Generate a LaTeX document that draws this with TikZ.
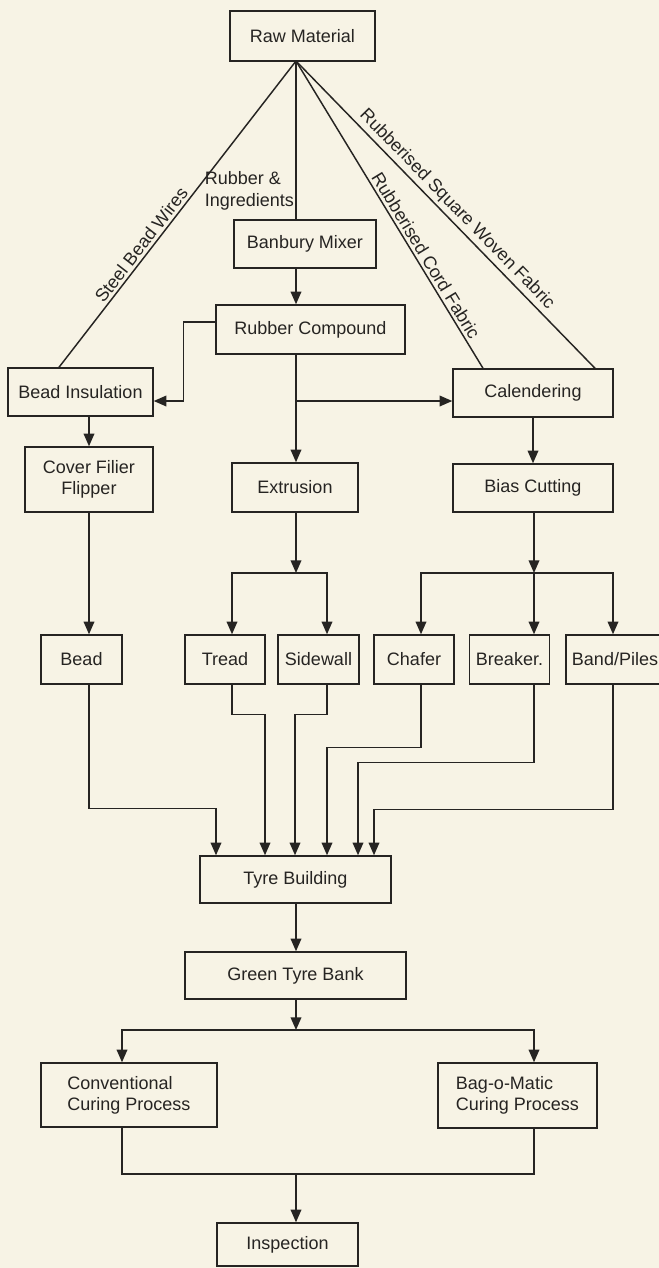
\documentclass[tikz,border=0pt]{standalone}
\usepackage{fontspec}
\setmainfont{Liberation Sans}
\usepackage{tikz}
\usetikzlibrary{arrows.meta,positioning,calc}
\definecolor{paper}{RGB}{247,243,229}
\definecolor{ink}{RGB}{38,36,34}
\newcommand{\boxfont}{\fontsize{13.5}{16}\selectfont}

\begin{document}
\begin{tikzpicture}[
    x=0.75pt,
    y=-0.75pt,
    >={Triangle[width=8pt,length=9.5pt]},
    bx/.style 2 args={
        draw=ink,
        line width=1.1pt,
        text=ink,
        align=center,
        inner sep=2pt,
        minimum width=#1*0.75pt,
        minimum height=#2*0.75pt,
        font=\boxfont
    },
    ln/.style={draw=ink, line width=1.1pt},
    lab/.style={text=ink, inner sep=2pt, font=\boxfont}
]

\fill[paper] (0,0) rectangle (659,1268);
\useasboundingbox (0,0) rectangle (659,1268);

% process boxes
\node[bx={145}{50}] (raw) at (302.5,36) {Raw Material};
\node[bx={142}{48}] (banbury) at (305,244) {Banbury Mixer};
\node[bx={189}{49}] (compound) at (310.5,329.5) {Rubber Compound};
\node[bx={145}{48}] (insul) at (80.5,392) {Bead Insulation};
\node[bx={160}{48}] (calender) at (533,393) {Calendering};
\node[bx={128}{65}] (filler) at (89,479.5) {Cover Filier\\Flipper};
\node[bx={126}{49}] (extrusion) at (295,487.5) {Extrusion};
\node[bx={160}{48}] (bias) at (533,488) {Bias Cutting};

% components
\node[bx={81}{49}] (bead) at (81.5,659.5) {Bead};
\node[bx={80}{49}] (tread) at (225,659.5) {Tread};
\node[bx={81}{49}] (sidewall) at (318.5,659.5) {Sidewall};
\node[bx={80}{49}] (chafer) at (414,659.5) {Chafer};
\node[bx={80}{49}] (breaker) at (509.5,659.5) {Breaker.};
\node[bx={98}{49}] (band) at (615,659.5) {Band/Piles};

\node[bx={191}{47}] (building) at (295.5,879.5) {Tyre Building};
\node[bx={221}{47}] (bank) at (295.5,975.5) {Green Tyre Bank};
\node[bx={176}{64}, align=left] (conv) at (129,1095) {Conventional\\Curing Process};
\node[bx={159}{65}, align=left] (bagomatic) at (517.5,1095.5) {Bag-o-Matic\\Curing Process};
\node[bx={141}{43}] (inspect) at (287.5,1244.5) {Inspection};

% connector columns
\coordinate (apex) at (296,61);
\coordinate (cbead) at (89,0);
\coordinate (ctread) at (232,0);
\coordinate (cside) at (327,0);
\coordinate (cchafer) at (421,0);
\coordinate (cbreak) at (534,0);
\coordinate (cband) at (613,0);
\coordinate (cconv) at (122,0);
\coordinate (cbag) at (534,0);

% raw material feeds
\draw[ln] (apex) -- node[lab, pos=0.82, left, align=left, inner sep=1pt] {Rubber \&\\Ingredients} (apex |- banbury.north);
\draw[ln] ($(insul.north)+(-21.5,0)$) -- node[lab, sloped, above, pos=0.38] {Steel Bead Wires} (apex);
\draw[ln] (apex) -- node[lab, sloped, above, pos=0.65] {Rubberised Cord Fabric} ($(calender.north)+(-50,0)$);
\draw[ln] (apex) -- node[lab, sloped, above, pos=0.51] {Rubberised Square Woven Fabric} ($(calender.north)+(62,0)$);

\draw[ln,->] (apex |- banbury.south) -- (apex |- compound.north);

% rubber compound outputs
\coordinate (csplit) at ($(apex |- calender.west)+(0,8)$);
\draw[ln,->] ($(compound.west)+(0,-7.5)$) -- ++(-32,0) |- ($(insul.east)+(0,9)$);
\draw[ln,->] (apex |- compound.south) -- (apex |- extrusion.north);
\draw[ln,->] (csplit) -- (csplit -| calender.west);

\draw[ln,->] (insul.south -| filler) -- (filler.north);
\draw[ln,->] (calender) -- (bias);
\draw[ln,->] (filler.south) -- (filler.south |- bead.north);

% extrusion and cutting splits
\coordinate (ejoin) at (apex |- 0,573);
\coordinate (bjoin) at (cbreak |- 0,573);
\draw[ln,->] (apex |- extrusion.south) -- (ejoin);
\draw[ln,->] (ejoin) -| (ctread |- tread.north);
\draw[ln,->] (ejoin) -| (cside |- sidewall.north);
\draw[ln,->] (cbreak |- bias.south) -- (bjoin);
\draw[ln,->] (bjoin) -| (cchafer |- chafer.north);
\draw[ln,->] (bjoin) -- (cbreak |- breaker.north);
\draw[ln,->] (bjoin) -| (cband |- band.north);

% into tyre building
\draw[ln,->] (cbead |- bead.south) -- ++(0,124) -| ($(building.north)+(-79.5,0)$);
\draw[ln,->] (ctread |- tread.south) -- ++(0,30) -| ($(building.north)+(-30.5,0)$);
\draw[ln,->] (cside |- sidewall.south) -- ++(0,30) -| ($(building.north)+(-0.5,0)$);
\draw[ln,->] (cchafer |- chafer.south) -- ++(0,63) -| ($(building.north)+(31.5,0)$);
\draw[ln,->] (cbreak |- breaker.south) -- ++(0,78) -| ($(building.north)+(62.5,0)$);
\draw[ln,->] (cband |- band.south) -- ++(0,125) -| ($(building.north)+(78.5,0)$);

\draw[ln,->] (apex |- building.south) -- (apex |- bank.north);

% curing
\coordinate (cjoin) at (apex |- 0,1030);
\coordinate (ijoin) at (apex |- 0,1174);
\draw[ln,->] (apex |- bank.south) -- (cjoin);
\draw[ln,->] (cjoin) -| (cconv |- conv.north);
\draw[ln,->] (cjoin) -| (cbag |- bagomatic.north);
\draw[ln] (cconv |- conv.south) |- (ijoin) -| (cbag |- bagomatic.south);
\draw[ln,->] (ijoin) -- (apex |- inspect.north);

\end{tikzpicture}
\end{document}
